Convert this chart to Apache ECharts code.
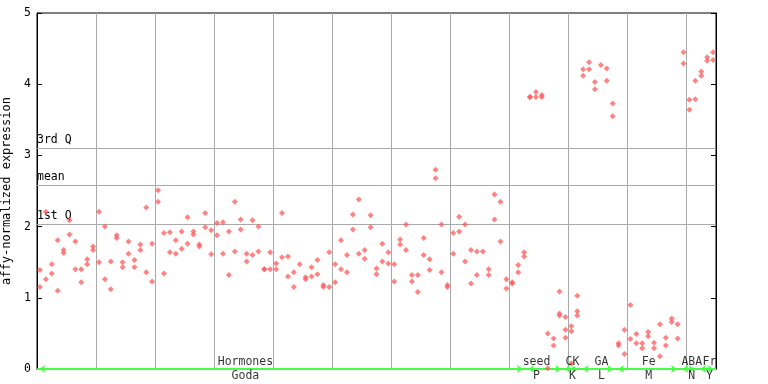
<!DOCTYPE html>
<html><head><meta charset="utf-8">
<script src="https://cdn.jsdelivr.net/npm/echarts@6/dist/echarts.min.js"></script>
<style>html,body{margin:0;padding:0;background:#fff}#c{width:768px;height:384px}</style>
</head><body><div id="c"></div>
<script>
// Expression values per sample position (replicates)
const hormonesValues = [
[1.39,1.15],[2.21,1.26],[1.47,1.34],[1.81,1.10],[1.67,1.63],[2.09,1.89],[1.79,1.40],[1.40,1.22],[1.54,1.47],[1.72,1.67],
[2.21,1.50],[2.00,1.26],[1.51,1.12],[1.88,1.84],[1.50,1.43],[1.79,1.62],[1.53,1.43],[1.75,1.67],[2.27,1.36],[1.76,1.23],
[2.51,2.35],[1.91,1.34],[1.92,1.64],[1.81,1.62],[1.93,1.69],[2.13,1.76],[1.93,1.89],[1.75,1.72],[2.19,1.99],[1.95,1.61],
[2.05,1.88],[2.06,1.62],[1.93,1.32],[2.35,1.65],[2.10,1.96],[1.62,1.51],[2.09,1.60],[2.00,1.65],[1.40,1.40],[1.64,1.40],
[1.48,1.40],[2.19,1.57],[1.58,1.30],[1.36,1.15],[1.47],[1.29,1.26],[1.43,1.30],[1.53,1.33],[1.18,1.15],[1.64,1.15],
[1.47,1.22],[1.81,1.40],[1.60,1.36],[2.17,1.96],[2.38,1.62],[1.67,1.55],[2.16,1.99],[1.41,1.33],[1.76,1.51],[1.64,1.48],
[1.47,1.23],[1.82,1.75],[2.03,1.67],[1.32,1.23],[1.32,1.08],[1.84,1.60],[1.54,1.39],[2.80,2.68],[2.03,1.36],[1.18,1.15],
[1.91,1.62],[2.14,1.93],[2.03,1.51],[1.67,1.20],[1.65,1.32],[1.65],[1.40,1.32],[2.45,2.10],[2.35,1.79],[1.26,1.13],
[1.22,1.20],[1.46,1.36],[1.64,1.58]
];
const seedValues = [[3.82,3.82],[3.89,3.82],[3.85,3.82],[0.50,0.01],[0.43,0.33]];
const ckValues = [[1.09,0.78,0.75],[0.73,0.55,0.44],[0.60,0.53,0.08],[1.03,0.81,0.75]];
const gaValues = [[4.21,4.12],[4.31,4.21],[4.03,3.93],[4.27],[4.22,4.05],[3.73,3.55]];
const feValues = [[0.36,0.33],[0.55,0.21],[0.90,0.42],[0.49,0.36],[0.36,0.29],[0.52,0.46],[0.37,0.29],[0.63,0.18],[0.44,0.33],[0.71,0.66],[0.63,0.43]];
const abaValues = [[4.45,4.29],[3.78,3.64],[4.05,3.79]];
const frValues = [[4.18,4.12],[4.38,4.33],[4.45,4.34]];

// Summary lines
const quartileValues = [3.10, 2.58, 2.04];
const quartileLabels = ['3rd Q', 'mean', '1st Q'];

// Group annotations along the x axis (sample-position units)
const groupTop = ['Hormones', 'seed', 'CK', 'GA', 'Fe', 'ABA', 'Fr'];
const groupBottom = ['Goda', 'P', 'K', 'L', 'M', 'N', 'Y'];
const groupFrom = [0.4, 83.2, 89.3, 92.4, 98.4, 109.3, 112.3];
const groupTo = [82.3, 88.8, 91.6, 97.6, 108.4, 111.4, 114.6];
const groupLabelAt = [35.3, 84.6, 90.7, 95.6, 103.6, 110.9, 113.9];

const FONT = 'DejaVu Sans Mono';
const groupsData = [hormonesValues, seedValues, ckValues, gaValues, feValues, abaValues, frValues];
const points = [];
let pos = 0;
groupsData.forEach(g => g.forEach(vals => { vals.forEach(v => points.push([pos + 0.5, v])); pos++; }));

const arrowLines = [[{coord:[0,0], symbol:'none'},{coord:[115,0], symbol:'none'}]];
groupFrom.forEach((f,k) => arrowLines.push([
  {coord:[f,0], symbol:'arrow', symbolSize:[6,6]},
  {coord:[groupTo[k],0], symbol:'arrow', symbolSize:[6,6]}
]));

const chart = echarts.init(document.getElementById('c'), null, {renderer:'canvas'});
chart.setOption({
  animation:false,
  grid:{left:37,right:52,top:13,bottom:15,show:true,borderColor:'#000',borderWidth:1,
        containLabel:false,outerBoundsMode:'none'},
  xAxis:{type:'value',min:0,max:115,interval:10,
    axisLabel:{show:false},axisTick:{show:false},
    axisLine:{show:true,lineStyle:{color:'#000'}},
    splitLine:{show:true,lineStyle:{color:'#aaa',width:1}}},
  yAxis:[{type:'value',min:0,max:5,interval:1,position:'left',
    name:'affy-normalized expression',nameLocation:'middle',nameGap:20,
    nameTextStyle:{fontFamily:FONT,fontSize:12,color:'#000'},
    axisLine:{show:true,lineStyle:{color:'#000'}},
    axisTick:{show:true,inside:true,length:5,lineStyle:{color:'#000'}},
    axisLabel:{fontFamily:FONT,fontSize:11.5,color:'#000',margin:6},
    splitLine:{show:false}},
   {type:'value',min:0,max:5,interval:1,position:'right',
    axisLine:{show:true,lineStyle:{color:'#000'}},
    axisTick:{show:true,inside:true,length:5,lineStyle:{color:'#000'}},
    axisLabel:{show:false},splitLine:{show:false}}],
  series:[
    {type:'scatter',data:points,symbol:'diamond',symbolSize:6,
     itemStyle:{color:'#ff5a5a',opacity:0.75},z:5,
     markLine:{silent:true,symbol:'none',animation:false,
       lineStyle:{color:'#aaa',type:'solid',width:1},
       label:{show:true,position:'insideStartTop',distance:[0,2],formatter:'{b}',
         fontFamily:FONT,fontSize:11.5,color:'#000'},
       data:quartileValues.map((v,k)=>({yAxis:v,name:quartileLabels[k]}))}},
    {type:'scatter',data:groupTop.map((n,k)=>({value:[groupLabelAt[k],0],name:n})),
     symbolSize:0,silent:true,z:6,
     label:{show:true,position:'top',distance:1,formatter:'{b}',fontFamily:FONT,fontSize:11.5,color:'#000'},
     markLine:{silent:true,animation:false,
       lineStyle:{color:'#44ff44',type:'solid',width:2},
       itemStyle:{color:'#44ff44'},
       label:{show:false},
       data:arrowLines}},
    {type:'scatter',data:groupBottom.map((n,k)=>({value:[groupLabelAt[k],0],name:n})),
     symbolSize:0,silent:true,z:6,
     label:{show:true,position:'bottom',distance:1,formatter:'{b}',fontFamily:FONT,fontSize:11.5,color:'#000'}}
  ]
});
</script></body></html>
